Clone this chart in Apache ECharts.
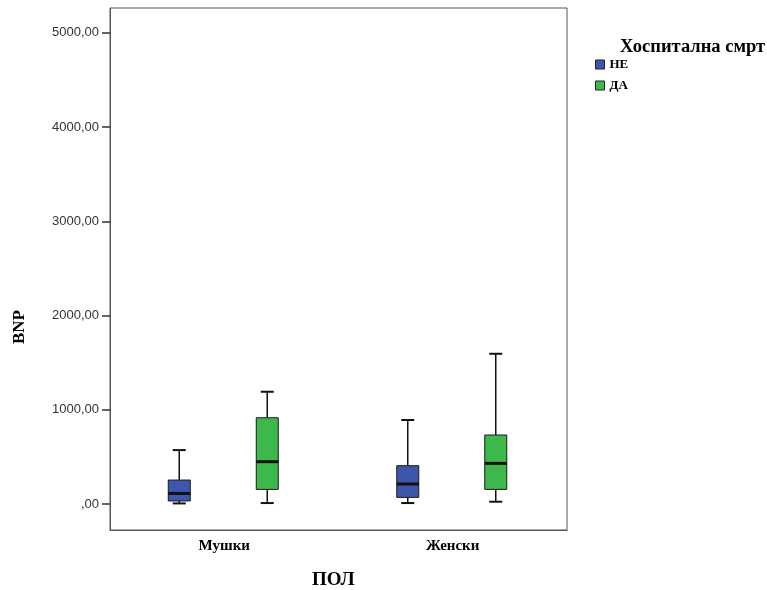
<!DOCTYPE html>
<html><head><meta charset="utf-8">
<script src="https://cdn.jsdelivr.net/npm/echarts@6/dist/echarts.min.js"></script>
<style>html,body{margin:0;padding:0;background:#fff}#c{width:767px;height:590px}</style>
</head><body><div id="c"></div>
<script>
const categories = ['Мушки', 'Женски'];
const seriesNames = ['НЕ', 'ДА'];
// [min, q1, median, q3, max] per category
const neBoxes = [[6, 32, 112, 254, 572], [10, 70, 212, 406, 891]];
const daBoxes = [[10, 155, 449, 915, 1191], [24, 155, 431, 732, 1594]];
const yTicks = [0, 1000, 2000, 3000, 4000, 5000];

const colors = ['#3f57ab', '#3cb94a'];
const offsets = [-45, 43];
const boxW = 22, capW = 13;
const serif = '"Liberation Serif","DejaVu Serif",serif';

function renderItem(params, api) {
  const cat = api.value(0);
  const cx = api.coord([cat, 0])[0] + offsets[params.seriesIndex];
  const py = i => api.coord([cat, api.value(i)])[1];
  const yMin = py(1), yQ1 = py(2), yMed = py(3), yQ3 = py(4), yMax = py(5);
  const line = (x1, y1, x2, y2, w) => ({type: 'line', shape: {x1, y1, x2, y2}, style: {stroke: '#111', lineWidth: w}});
  return {type: 'group', children: [
    line(cx, yMax, cx, yQ3, 1.5),
    line(cx, yQ1, cx, yMin, 1.5),
    line(cx - capW / 2, yMax, cx + capW / 2, yMax, 2),
    line(cx - capW / 2, yMin, cx + capW / 2, yMin, 2),
    {type: 'rect', shape: {x: cx - boxW / 2, y: yQ3, width: boxW, height: yQ1 - yQ3},
     style: {fill: colors[params.seriesIndex], stroke: '#1a1a1a', lineWidth: 1}},
    line(cx - boxW / 2, yMed, cx + boxW / 2, yMed, 3)
  ]};
}

const mk = (boxes) => boxes.map((b, i) => [i].concat(b));

const chart = echarts.init(document.getElementById('c'));
chart.setOption({
  animation: false,
  grid: {left: 110, right: 200, top: 8, bottom: 60, show: true, borderColor: '#555', borderWidth: 1,
    containLabel: false, outerBoundsMode: 'none'},
  title: {text: 'Хоспитална смрт', left: 615, top: 33,
    textStyle: {fontFamily: serif, fontWeight: 'bold', fontSize: 18.5, color: '#000'}},
  legend: {orient: 'vertical', left: 590, top: 53, itemWidth: 9, itemHeight: 9, itemGap: 8,
    data: seriesNames.map((n, i) => ({name: n, icon: 'rect', itemStyle: {color: colors[i], borderColor: '#222', borderWidth: 1}})),
    textStyle: {fontFamily: serif, fontWeight: 'bold', fontSize: 13, color: '#000', padding: [0, 0, 0, 0]}},
  xAxis: {type: 'category', data: categories, boundaryGap: true,
    axisLine: {onZero: false, lineStyle: {color: '#555'}},
    axisTick: {alignWithLabel: true, length: 5, lineStyle: {color: '#555'}},
    axisLabel: {fontFamily: serif, fontWeight: 'bold', fontSize: 15, color: '#000', margin: 9},
    splitLine: {show: false}},
  yAxis: {type: 'value', min: -276, max: 5263,
    axisLine: {show: true, lineStyle: {color: '#555'}},
    axisTick: {show: true, length: 8, customValues: yTicks, lineStyle: {color: '#333', width: 1.5}},
    axisLabel: {customValues: yTicks, fontFamily: '"Liberation Sans",Arial,sans-serif', fontSize: 13, color: '#333', margin: 11,
      formatter: v => v === 0 ? ',00' : v.toFixed(2).replace('.', ',')},
    splitLine: {show: false}},
  graphic: [
    {type: 'text', left: 11, top: 310, rotation: Math.PI / 2,
     style: {text: 'BNP', font: 'bold 17px ' + serif, fill: '#000'}},
    {type: 'text', left: 312, top: 571,
     style: {text: 'ПОЛ', font: 'bold 19px ' + serif, fill: '#000'}}
  ],
  series: [
    {name: seriesNames[0], type: 'custom', renderItem, itemStyle: {color: colors[0]},
     encode: {x: 0, y: [1, 2, 3, 4, 5]}, data: mk(neBoxes)},
    {name: seriesNames[1], type: 'custom', renderItem, itemStyle: {color: colors[1]},
     encode: {x: 0, y: [1, 2, 3, 4, 5]}, data: mk(daBoxes)}
  ]
});
</script></body></html>
